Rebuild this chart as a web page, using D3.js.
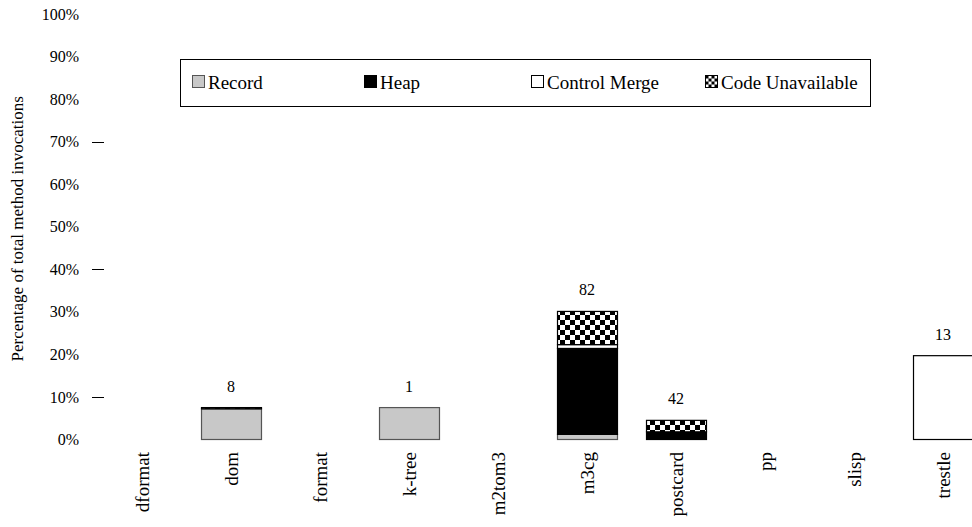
<!DOCTYPE html>
<html><head><meta charset="utf-8">
<script src="https://cdn.jsdelivr.net/npm/d3@7"></script>
<style>body{margin:0;background:#fff}svg{display:block}svg text{font-family:"Liberation Serif","Times New Roman",serif !important;fill:#000}</style>
</head><body><svg id="c" width="972" height="527" font-family="Liberation Serif"></svg>
<script>
const categories = ["dformat","dom","format","k-tree","m2tom3","m3cg","postcard","pp","slisp","trestle"];
const seriesNames = ["Record","Heap","Control Merge","Code Unavailable"];
const record      = [0, 7.2, 0, 7.5, 0, 1.2, 0, 0, 0, 0];
const heap        = [0, 0,   0, 0,   0, 20.2, 1.8, 0, 0, 0];
const controlMerge= [0, 0,   0, 0,   0, 0.9, 0, 0, 0, 19.7];
const unavailable = [0, 0.3, 0, 0,   0, 7.8, 2.7, 0, 0, 0];
const barLabels   = ["", "8", "", "1", "", "82", "42", "", "", "13"];
const yTicks = [0,10,20,30,40,50,60,70,80,90,100];
const markedTicks = [10,40,70];

const svg = d3.select("#c");
const defs = svg.append("defs");
const pat = defs.append("pattern").attr("id","checker").attr("patternUnits","userSpaceOnUse")
  .attr("width",10).attr("height",10);
pat.append("rect").attr("width",10).attr("height",10).attr("fill","#fff");
pat.append("rect").attr("width",5).attr("height",5).attr("fill","#000");
pat.append("rect").attr("x",5).attr("y",5).attr("width",5).attr("height",5).attr("fill","#000");

const fills = ["#c8c8c8","#000","#fff","url(#checker)"];
const strokes = ["#555","#000","#000","#000"];

const x = d3.scaleBand().domain(categories).range([97.5,987.5]).paddingInner(0.326).paddingOuter(0.163);
const y = d3.scaleLinear().domain([0,100]).range([439.5,14]);

// y tick labels
const yAxis = d3.axisLeft(y).tickValues(yTicks).tickFormat(d=>d+"%").tickSize(0).tickPadding(0);
const ga = svg.append("g").attr("transform","translate(79,0)").call(yAxis);
ga.attr("font-family","Liberation Serif").attr("font-size",16);
ga.select(".domain").remove();
ga.selectAll("text").attr("font-size",16);
// marked tick lines
svg.selectAll("line.mt").data(markedTicks).join("line")
  .attr("x1",92).attr("x2",104).attr("y1",d=>Math.round(y(d))+0.5).attr("y2",d=>Math.round(y(d))+0.5)
  .attr("stroke","#000").attr("stroke-width",1);

// y title
svg.append("text").attr("transform","translate(23,"+(y(50)+2)+") rotate(-90)")
  .attr("text-anchor","middle").attr("font-size",17).text("Percentage of total method invocations");

// stacked bars
const rows = categories.map((c,i)=>({cat:c, "Record":record[i], "Heap":heap[i], "Control Merge":controlMerge[i], "Code Unavailable":unavailable[i]}));
const stack = d3.stack().keys(seriesNames)(rows);
stack.forEach((layer,k)=>{
  svg.append("g").selectAll("rect").data(layer.filter(d=>d[1]-d[0]>0)).join("rect")
    .attr("x",d=>x(d.data.cat)+0.5).attr("width",x.bandwidth())
    .attr("y",d=>y(d[1])).attr("height",d=>y(d[0])-y(d[1]))
    .attr("fill",fills[k]).attr("stroke",strokes[k]).attr("stroke-width",1.2);
});

// bar labels
const totals = categories.map((c,i)=>record[i]+heap[i]+controlMerge[i]+unavailable[i]);
svg.append("g").selectAll("text").data(categories.map((c,i)=>({c,t:totals[i],l:barLabels[i]})).filter(d=>d.l))
  .join("text").attr("x",d=>x(d.c)+x.bandwidth()/2).attr("y",d=>y(d.t)-16)
  .attr("text-anchor","middle").attr("font-size",16).text(d=>d.l);

// category labels
svg.append("g").selectAll("text").data(categories).join("text")
  .attr("transform",d=>"translate("+(x(d)+x.bandwidth()/2)+",452) rotate(-90)")
  .attr("dy","0.35em").attr("text-anchor","end").attr("font-size",19).text(d=>d);

// legend
const lg = svg.append("g");
lg.append("rect").attr("x",180.5).attr("y",59.5).attr("width",690).attr("height",47)
  .attr("fill","#fff").attr("stroke","#000").attr("stroke-width",1);
const legX = [192,364,531,705];
const pl = defs.append("pattern").attr("id","checkerL").attr("patternUnits","userSpaceOnUse")
  .attr("x",legX[3]+0.5).attr("y",75.5).attr("width",6).attr("height",6);
pl.append("rect").attr("width",6).attr("height",6).attr("fill","#fff");
pl.append("rect").attr("width",3).attr("height",3).attr("fill","#000");
pl.append("rect").attr("x",3).attr("y",3).attr("width",3).attr("height",3).attr("fill","#000");
seriesNames.forEach((s,k)=>{
  lg.append("rect").attr("x",legX[k]+0.5).attr("y",75.5).attr("width",12).attr("height",12)
    .attr("fill", k===3 ? "url(#checkerL)" : fills[k]).attr("stroke",k===0?"#555":"#000");
  lg.append("text").attr("x",legX[k]+16).attr("y",82).attr("dy","0.35em").attr("font-size",19).text(s);
});
</script></body></html>
